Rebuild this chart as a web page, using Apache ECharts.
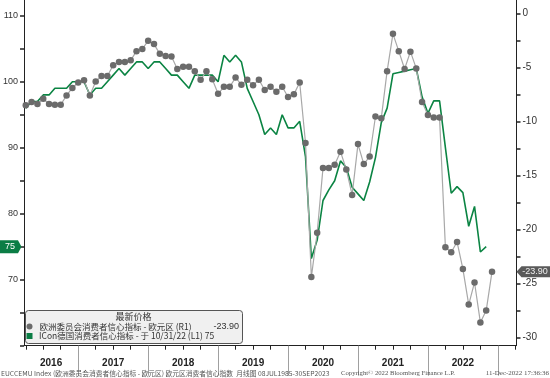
<!DOCTYPE html>
<html><head><meta charset="utf-8">
<script src="https://cdn.jsdelivr.net/npm/echarts@6/dist/echarts.min.js"></script>
<style>html,body{margin:0;padding:0;background:#fff}#c{width:550px;height:378px}</style>
</head><body><div id="c"></div>
<script>
// months counted from Jan 2016 (value m = end of month m); first point = Mar 2016
const startMonth = 3;
const euroConf = [
  -8.5,-8.2,-8.4,-7.9,-8.4,-8.45,-8.45,-7.6,-6.9,-6.4,
  -6.2,-7.6,-6.3,-5.8,-5.8,-4.8,-4.5,-4.5,-4.35,-3.5,
  -3.3,-2.55,-2.85,-3.75,-3.95,-4.0,-5.15,-4.95,-4.95,-5.35,
  -6.15,-5.35,-6.1,-7.45,-6.8,-6.8,-5.95,-6.6,-6.15,-6.65,
  -6.15,-7.1,-6.8,-7.25,-6.8,-7.75,-7.5,-6.4,-12.0,-24.4,
  -20.3,-14.3,-14.3,-14.0,-12.8,-14.45,-16.8,-12.1,-13.95,-13.25,
  -9.55,-9.7,-5.35,-1.9,-3.5,-5.15,-3.55,-5.1,-8.2,-9.4,
  -9.65,-9.65,-21.65,-22.1,-21.15,-23.65,-26.95,-24.9,-28.6,-27.5,
  -23.9
];
const germanyConf = [
  96,97,97,98,98,99,99,99,100,100,
  100,98,99,99,100,101,102,101,102,103,
  103,102,103,103,102,101,101,100,99,101,
  101,101,101,100,104,103,104,103,99,97,
  95,92,93,92,95,93,93,94,88.6,73.2,
  76,82,83.6,85,88,87,84,83,82,84.8,
  88.5,93.8,96,101.2,101.4,101.6,101.8,102,97.7,95.2,
  97.1,97.1,90,83.1,84.1,83.2,78.1,81.1,74.2,75
];
const yearLabels = ['2016','2017','2018','2019','2020','2021','2022','2023'];
const leftLabels = [70,80,90,100,110];
const rightLabels = [0,-5,-10,-15,-20,-25,-30];
const euroName = '欧洲委员会消费者信心指标 - 欧元区 (R1)';
const germanyName = 'ICon德国消费者信心指标 - 于 10/31/22 (L1)';

const X_MIN = 2.7, X_MAX = 87.2;
const grayData = euroConf.map((v,i)=>[startMonth+i, v]);
const greenData = germanyConf.map((v,i)=>[startMonth+i, v]);

const quarterTicks = [], yearTicks = [], yearCenters = [];
for (let m = 3; m <= 87; m += 3) if (m % 12) quarterTicks.push(m);
for (let m = 12; m <= 84; m += 12) yearTicks.push(m);
for (let y = 0; y < 7; y++) {
  const a = Math.max(X_MIN, y*12), b = Math.min(X_MAX, y*12+12);
  yearCenters.push((a+b)/2);
}
const leftTicks = []; for (let v = 60; v <= 110; v += 5) leftTicks.push(v);
const rightTicks = []; for (let v = -30; v <= 0; v += 2.5) rightTicks.push(v);

const chart = echarts.init(document.getElementById('c'), null, {renderer:'canvas'});
const AX = '#222';
const option = {
  animation: false,
  backgroundColor: '#fff',
  grid: {left: 21.5, right: 33.5, top: 0, bottom: 32.3},
  xAxis: [{
    type: 'value', min: X_MIN, max: X_MAX, position: 'bottom',
    axisLine: {show: true, onZero: false, lineStyle: {color: AX, width: 1}},
    axisTick: {show: true, customValues: quarterTicks, length: 4, lineStyle: {color: AX}},
    axisLabel: {customValues: yearCenters, formatter: v => yearLabels[Math.floor(v/12)],
      margin: 13, fontSize: 10, fontWeight: 'bold', color: '#222', fontFamily: 'Liberation Sans'},
    splitLine: {show: false}
  }, {
    type: 'value', min: X_MIN, max: X_MAX, position: 'bottom',
    axisLine: {show: false, onZero: false},
    axisTick: {show: true, customValues: yearTicks, length: 30, lineStyle: {color: '#a0a0a0'}},
    axisLabel: {show: false}, splitLine: {show: false}
  }],
  yAxis: [{
    type: 'value', min: 60, max: 112.38, position: 'left',
    axisLine: {show: true, onZero: false, lineStyle: {color: AX, width: 1}},
    axisTick: {show: true, customValues: leftTicks, length: 4, lineStyle: {color: AX, width: 1.5}},
    axisLabel: {customValues: leftLabels, fontSize: 9, color: '#333', margin: 6, fontFamily: 'Liberation Sans'},
    splitLine: {show: false}
  }, {
    type: 'value', min: -30.75, max: 1.23, position: 'right',
    axisLine: {show: true, onZero: false, lineStyle: {color: AX, width: 1}},
    axisTick: {show: true, customValues: rightTicks, length: 4, lineStyle: {color: AX, width: 1.5}},
    axisLabel: {customValues: rightLabels, fontSize: 10, color: '#333', margin: 6, fontFamily: 'Liberation Sans'},
    splitLine: {show: false}
  }],
  series: [{
    name: germanyName, type: 'line', xAxisIndex: 0, yAxisIndex: 0, data: greenData,
    symbol: 'none', lineStyle: {color: '#0b8443', width: 1.6}, z: 2
  }, {
    name: euroName, type: 'line', xAxisIndex: 0, yAxisIndex: 1, data: grayData,
    symbol: 'circle', symbolSize: 6.5, itemStyle: {color: '#6b6b6b'},
    lineStyle: {color: '#a8a8a8', width: 1.2}, z: 3
  }]
};
chart.setOption(option);

const lastGreen = germanyConf[germanyConf.length-1];
const lastGray = euroConf[euroConf.length-1];
const gy = chart.convertToPixel({yAxisIndex: 0}, lastGreen);
const ry = chart.convertToPixel({yAxisIndex: 1}, lastGray);
const CJK = '"Noto Sans CJK SC", sans-serif';
const graphics = [
  {type: 'polygon', shape: {points: [[0,gy-6.5],[18,gy-6.5],[21.5,gy],[18,gy+6.5],[0,gy+6.5]]},
   style: {fill: '#0b7d45'}, z: 10},
  {type: 'text', x: 10, y: gy, style: {text: String(lastGreen), fill: '#fff', font: '9px "Liberation Sans"', align: 'center', verticalAlign: 'middle'}, z: 11},
  {type: 'polygon', shape: {points: [[516.5,ry],[521.5,ry-5.5],[550,ry-5.5],[550,ry+5.5],[521.5,ry+5.5]]},
   style: {fill: '#5a5a5a'}, z: 10},
  {type: 'text', x: 535, y: ry, style: {text: lastGray.toFixed(2), fill: '#eee', font: '9px "Liberation Sans"', align: 'center', verticalAlign: 'middle'}, z: 11},
  {type: 'rect', shape: {x: 25.5, y: 310.5, width: 217, height: 33, r: 3},
   style: {fill: '#f0f0f0', stroke: '#555', lineWidth: 1}, z: 10},
  {type: 'text', x: 133.5, y: 316.5, style: {text: '最新价格', fill: '#333', font: '9px ' + CJK, align: 'center', verticalAlign: 'middle'}, z: 11},
  {type: 'circle', shape: {cx: 29.5, cy: 326.5, r: 3}, style: {fill: '#6b6b6b'}, z: 11},
  {type: 'text', x: 39.5, y: 326.5, style: {text: euroName, fill: '#333', font: '8.5px ' + CJK, verticalAlign: 'middle'}, z: 11},
  {type: 'text', x: 239, y: 326.5, style: {text: lastGray.toFixed(2), fill: '#333', font: '9px "Liberation Sans"', align: 'right', verticalAlign: 'middle'}, z: 11},
  {type: 'rect', shape: {x: 26.5, y: 333, width: 6, height: 6}, style: {fill: '#0b7d45'}, z: 11},
  {type: 'text', x: 39, y: 336, style: {text: germanyName + ' ' + lastGreen, fill: '#333', font: '8.5px ' + CJK, verticalAlign: 'middle'}, z: 11},
  {type: 'text', x: 1, y: 373.5, style: {text: 'EUCCEMU Index (欧洲委员会消费者信心指标 - 欧元区) 欧元区消费者信心指数  月线图 08JUL1985-30SEP2023', fill: '#555', font: '6.75px ' + CJK, verticalAlign: 'middle'}, z: 11},
  {type: 'text', x: 341, y: 373.5, style: {text: 'Copyright© 2022 Bloomberg Finance L.P.', fill: '#555', font: '6.7px "Liberation Serif"', verticalAlign: 'middle'}, z: 11},
  {type: 'text', x: 549, y: 373.5, style: {text: '11-Dec-2022 17:36:36', fill: '#555', font: '7px "Liberation Serif"', align: 'right', verticalAlign: 'middle'}, z: 11}
];
chart.setOption({graphic: graphics});
</script>
</body></html>
